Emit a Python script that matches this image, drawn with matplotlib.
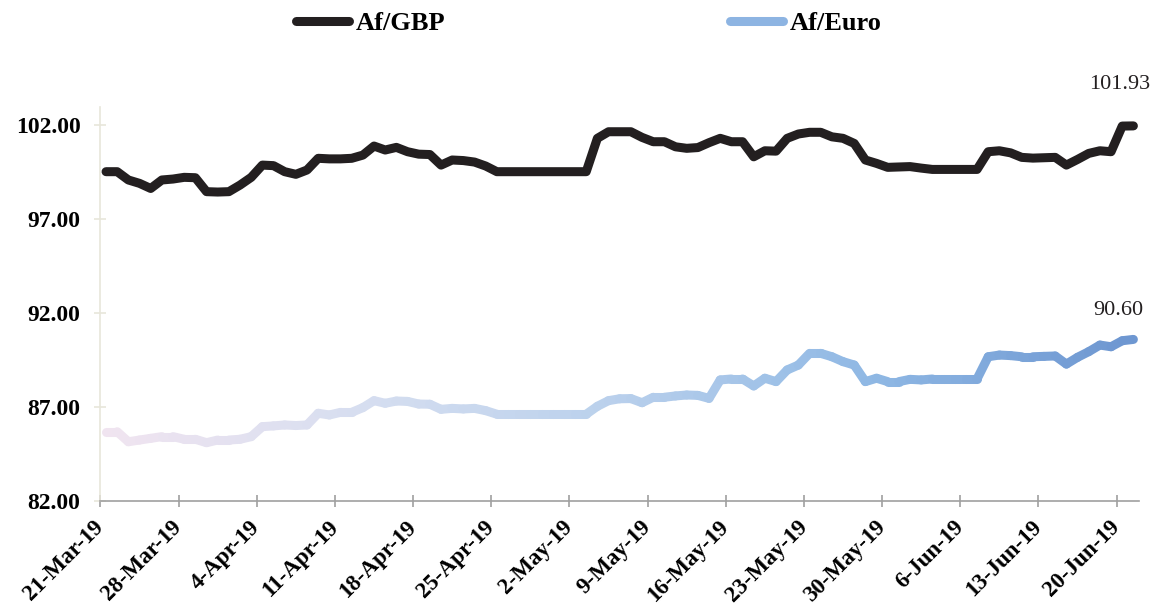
import numpy as np
import matplotlib
matplotlib.use("Agg")
import matplotlib.pyplot as plt
from matplotlib.collections import LineCollection
from matplotlib.colors import LinearSegmentedColormap
from matplotlib.lines import Line2D

# daily rates, 21-Mar-19 .. 21-Jun-19
gbp = [99.50, 99.50, 99.06, 98.88, 98.61, 99.06, 99.11, 99.20, 99.18, 98.44,
       98.42, 98.44, 98.79, 99.20, 99.85, 99.82, 99.50, 99.36, 99.59, 100.21,
       100.18, 100.18, 100.21, 100.38, 100.86, 100.65, 100.79, 100.56, 100.43, 100.41,
       99.85, 100.12, 100.09, 100.01, 99.80, 99.50, 99.50, 99.50, 99.50, 99.50,
       99.50, 99.50, 99.50, 99.50, 101.27, 101.62, 101.62, 101.62, 101.32, 101.09,
       101.09, 100.82, 100.74, 100.78, 101.04, 101.27, 101.09, 101.09, 100.29, 100.61,
       100.59, 101.27, 101.50, 101.59, 101.59, 101.35, 101.27, 101.00, 100.12, 99.94,
       99.73, 99.75, 99.77, 99.69, 99.62, 99.62, 99.62, 99.62, 99.62, 100.56,
       100.61, 100.50, 100.26, 100.22, 100.24, 100.26, 99.85, 100.15, 100.47, 100.61,
       100.56, 101.92, 101.93]

euro = [85.70, 85.70, 85.17, 85.26, 85.35, 85.44, 85.44, 85.30, 85.30, 85.12,
        85.26, 85.26, 85.30, 85.44, 85.97, 86.01, 86.06, 86.03, 86.06, 86.68,
        86.59, 86.73, 86.73, 86.98, 87.35, 87.21, 87.33, 87.31, 87.17, 87.16,
        86.89, 86.94, 86.91, 86.94, 86.82, 86.63, 86.63, 86.63, 86.63, 86.63,
        86.63, 86.63, 86.63, 86.63, 87.05, 87.35, 87.45, 87.46, 87.24, 87.53,
        87.53, 87.60, 87.65, 87.63, 87.47, 88.45, 88.50, 88.50, 88.13, 88.54,
        88.36, 88.98, 89.24, 89.86, 89.86, 89.68, 89.42, 89.24, 88.36, 88.54,
        88.36, 88.36, 88.48, 88.45, 88.50, 88.50, 88.50, 88.50, 88.50, 89.68,
        89.77, 89.74, 89.68, 89.68, 89.70, 89.72, 89.29, 89.65, 89.95, 90.30,
        90.21, 90.53, 90.60]

tick_labels = ["21-Mar-19", "28-Mar-19", "4-Apr-19", "11-Apr-19", "18-Apr-19",
               "25-Apr-19", "2-May-19", "9-May-19", "16-May-19", "23-May-19",
               "30-May-19", "6-Jun-19", "13-Jun-19", "20-Jun-19"]
y_ticks = [82, 87, 92, 97, 102]

serif = "Liberation Serif"
days = np.arange(len(gbp)) + 0.5  # points sit mid-day on the date axis

fig = plt.figure(figsize=(11.64, 6.12), dpi=100)
ax = fig.add_axes([0.0863, 0.1806, 0.8922, 0.6451])

# Af/GBP
ax.plot(days, gbp, color="#231F20", lw=6.5, solid_capstyle="round", solid_joinstyle="round", zorder=3)

# Af/Euro with colour fading from pale lilac to steel blue
pts = np.column_stack([days, euro]).reshape(-1, 1, 2)
segs = np.concatenate([pts[:-1], pts[1:]], axis=1)
cmap = LinearSegmentedColormap.from_list(
    "euro", ["#F0E4F0", "#D6DEF0", "#B9D0EC", "#8FB8E4", "#6E97D1"])
lc = LineCollection(segs, cmap=cmap, linewidths=6.5, capstyle="round", joinstyle="round", zorder=2)
lc.set_array(np.linspace(0, 1, len(segs)))
ax.add_collection(lc)

ax.set_xlim(0, len(gbp))
ax.set_ylim(82, 102.95)

ax.set_xticks(np.arange(0, len(gbp), 7))
ax.set_xticklabels(tick_labels, rotation=45, ha="right", va="center",
                   rotation_mode="anchor", fontfamily=serif, fontweight="bold", fontsize=16.5)
ax.set_yticks(y_ticks)
ax.set_yticklabels(["%.2f" % v for v in y_ticks], fontfamily=serif, fontweight="bold", fontsize=17)

for s in ["top", "right"]:
    ax.spines[s].set_visible(False)
ax.spines["left"].set_color("#E8E6DA")
ax.spines["left"].set_linewidth(1.2)
ax.spines["bottom"].set_color("#A0A0A0")
ax.spines["bottom"].set_linewidth(1.2)
ax.tick_params(axis="x", direction="inout", length=8, width=1.2, color="#A0A0A0", pad=12)
ax.tick_params(axis="y", direction="inout", length=8.6, width=1.2, color="#E8E6DA", pad=10)

# last value labels
ax.annotate("%.2f" % gbp[-1], (days[-1], gbp[-1]), xytext=(-10, 30), textcoords="offset points",
            ha="center", va="center", fontfamily=serif, fontsize=16, color="#231F20")
ax.annotate("%.2f" % euro[-1], (days[-1], euro[-1]), xytext=(-11, 21), textcoords="offset points",
            ha="center", va="center", fontfamily=serif, fontsize=16, color="#231F20")

handles = [Line2D([], [], color="#231F20", lw=6.5, solid_capstyle="round"),
           Line2D([], [], color="#8DB4E2", lw=6.5, solid_capstyle="round")]
leg = fig.legend(handles, ["Af/GBP", "Af/Euro"], loc="center", bbox_to_anchor=(0.506, 0.962),
                 ncol=2, frameon=False, handlelength=2.0, handletextpad=0.25, columnspacing=10.8,
                 prop={"family": serif, "weight": "bold", "size": 19})

fig.savefig("out.png", dpi=100)
